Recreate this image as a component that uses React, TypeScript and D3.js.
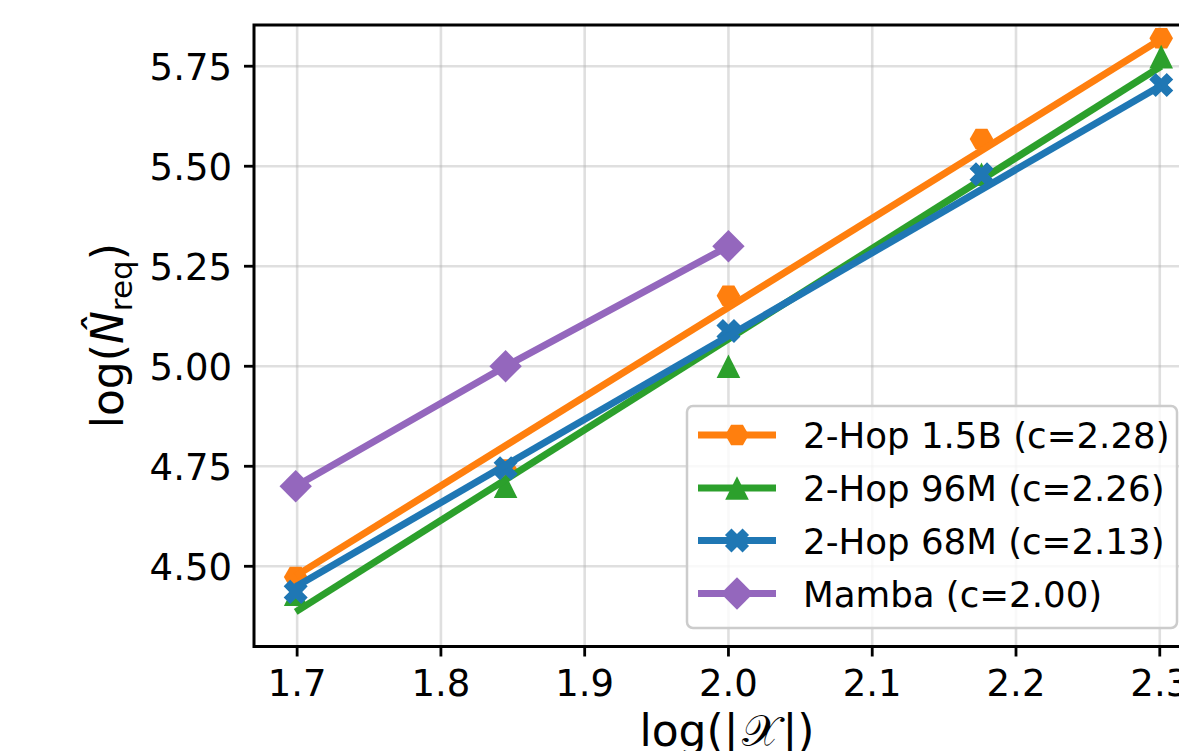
import React from 'react';
import * as d3 from 'd3';

const W = 1179;
const H = 751;

// log10 of |X| values
const xValues = [1.699, 1.845, 2.0, 2.176, 2.301];
const xTicks = [1.7, 1.8, 1.9, 2.0, 2.1, 2.2, 2.3];
const yTicks = [4.5, 4.75, 5.0, 5.25, 5.5, 5.75];

const hop15B = [4.473, 4.742, 5.176, 5.568, 5.82];
const hop96M = [4.43, 4.70, 5.0, 5.48, 5.774];
const hop68M = [4.436, 4.745, 5.088, 5.48, 5.703];
const mambaX = [1.699, 1.845, 2.0];
const mamba = [4.70, 5.0, 5.30];

// fitted lines (value at x=1.699 and x=2.301)
const fit15B = [4.476, 5.818];
const fit96M = [4.386, 5.75];
const fit68M = [4.449, 5.702];

const labels = ['2-Hop 1.5B (c=2.28)', '2-Hop 96M (c=2.26)', '2-Hop 68M (c=2.13)', 'Mamba (c=2.00)'];
const colors = ['#ff7f0e', '#2ca02c', '#1f77b4', '#9467bd'];
const shapes = ['hexagon', 'triangle', 'x', 'diamond'];

const margin = { left: 254, top: 25, right: 1195, bottom: 646.5 };

function markerPath(shape: string): string {
  const poly = (pts: number[][]) => 'M' + pts.map((p) => p.map((v) => v.toFixed(2)).join(',')).join('L') + 'Z';
  if (shape === 'hexagon') {
    const r = 11.8;
    return poly(d3.range(6).map((i) => [r * Math.cos((i * Math.PI) / 3), r * Math.sin((i * Math.PI) / 3)]));
  }
  if (shape === 'triangle') {
    const s = 11.8;
    return poly([[0, -s], [-s, s], [s, s]]);
  }
  if (shape === 'diamond') {
    const s = 16.2;
    return poly([[0, -s], [s, 0], [0, s], [-s, 0]]);
  }
  // filled X: a plus rotated by 45 degrees
  const a = 12.4;
  const t = 4.6;
  const plus = [[t, t], [t, a], [-t, a], [-t, t], [-a, t], [-a, -t], [-t, -t], [-t, -a], [t, -a], [t, -t], [a, -t], [a, t]];
  const c = Math.SQRT1_2;
  return poly(plus.map(([x, y]) => [x * c - y * c, x * c + y * c]));
}

export default function App() {
  const x = d3.scaleLinear().domain([1.67, 2.3245]).range([margin.left, margin.right]);
  const y = d3.scaleLinear().domain([4.2995, 5.853]).range([margin.bottom, margin.top]);

  const series = [
    { vals: hop15B, fit: fit15B },
    { vals: hop96M, fit: fit96M },
    { vals: hop68M, fit: fit68M },
  ];

  const line = d3
    .line<number[]>()
    .x((d) => x(d[0]))
    .y((d) => y(d[1]));

  const font = 'DejaVu Sans, sans-serif';

  const legX = 687;
  const legY = 406;
  const legW = 490;
  const legH = 222;
  const rowBase = [448, 501, 553.5, 606.5];

  return (
    <svg width={W} height={H} style={{ position: 'absolute', left: 0, top: 0, background: '#fff' }} fontFamily={font}>
      <defs>
        <clipPath id="plot">
          <rect x={margin.left} y={margin.top} width={margin.right - margin.left} height={margin.bottom - margin.top} />
        </clipPath>
      </defs>
      {/* grid */}
      <g stroke="#b0b0b0" strokeOpacity={0.4} strokeWidth={2.6}>
        {xTicks.map((t) => (
          <line key={'gx' + t} x1={x(t)} x2={x(t)} y1={margin.top} y2={margin.bottom} />
        ))}
        {yTicks.map((t) => (
          <line key={'gy' + t} x1={margin.left} x2={margin.right} y1={y(t)} y2={y(t)} />
        ))}
      </g>

      <g clipPath="url(#plot)">
        {series.map((s, i) => (
          <g key={'s' + i}>
            {s.vals.map((v, j) => (
              <path key={j} d={markerPath(shapes[i])} fill={colors[i]} transform={`translate(${x(xValues[j])},${y(v)})`} />
            ))}
            <path
              d={line([[xValues[0], s.fit[0]], [xValues[xValues.length - 1], s.fit[1]]]) || ''}
              fill="none"
              stroke={colors[i]}
              strokeWidth={7}
            />
          </g>
        ))}
        <path
          d={line(mambaX.map((v, j) => [v, mamba[j]])) || ''}
          fill="none"
          stroke={colors[3]}
          strokeWidth={7}
        />
        {mamba.map((v, j) => (
          <path key={'m' + j} d={markerPath('diamond')} fill={colors[3]} transform={`translate(${x(mambaX[j])},${y(v)})`} />
        ))}
      </g>

      {/* spines */}
      <rect
        x={margin.left}
        y={margin.top}
        width={margin.right - margin.left}
        height={margin.bottom - margin.top}
        fill="none"
        stroke="#000"
        strokeWidth={3}
      />

      {/* x ticks */}
      {xTicks.map((t) => (
        <g key={'xt' + t}>
          <line x1={x(t)} x2={x(t)} y1={margin.bottom} y2={margin.bottom + 10} stroke="#000" strokeWidth={2.8} />
          <text x={x(t)} y={696} textAnchor="middle" fontSize={37} fill="#000">
            {t.toFixed(1)}
          </text>
        </g>
      ))}
      {/* y ticks */}
      {yTicks.map((t) => (
        <g key={'yt' + t}>
          <line x1={margin.left - 10} x2={margin.left} y1={y(t)} y2={y(t)} stroke="#000" strokeWidth={2.8} />
          <text x={232} y={y(t) + 13.5} textAnchor="end" fontSize={37} fill="#000">
            {t.toFixed(2)}
          </text>
        </g>
      ))}

      {/* axis labels */}
      <text x={727} y={746} textAnchor="middle" fontSize={44} fill="#000">
        log(|<tspan dx={3} fontFamily="DejaVu Serif, serif">𝒳</tspan>
        <tspan dx={3}>|)</tspan>
      </text>
      <text transform={`translate(123,${(margin.top + margin.bottom) / 2}) rotate(-90)`} textAnchor="middle" fontSize={44} fill="#000">
        log(<tspan fontStyle="italic">N̂</tspan>
        <tspan fontSize={31} dy={9}>req</tspan>
        <tspan dy={-9}>)</tspan>
      </text>

      {/* legend */}
      <rect x={legX} y={legY} width={legW} height={legH} rx={6} fill="#fff" fillOpacity={0.8} stroke="#cccccc" strokeWidth={2.5} />
      {labels.map((lab, i) => {
        const cy = rowBase[i] - 13;
        return (
          <g key={'lg' + i}>
            <line x1={698} x2={776} y1={cy} y2={cy} stroke={colors[i]} strokeWidth={7} />
            <path d={markerPath(shapes[i])} fill={colors[i]} transform={`translate(737,${cy})`} />
            <text x={803} y={rowBase[i]} fontSize={35.6} fill="#000">
              {lab}
            </text>
          </g>
        );
      })}
    </svg>
  );
}
